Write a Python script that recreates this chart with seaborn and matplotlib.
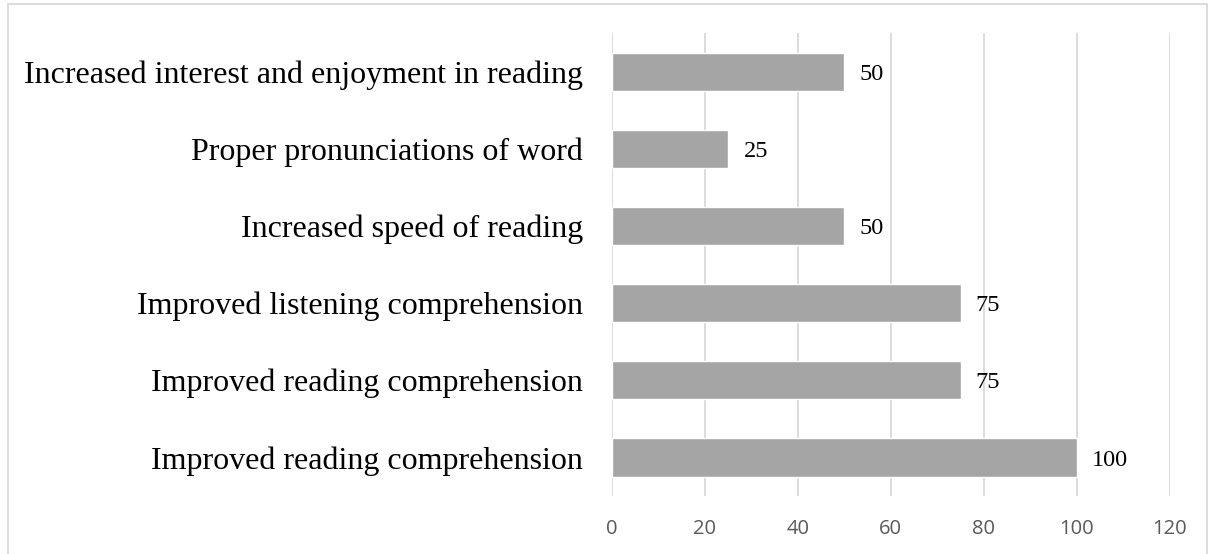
import seaborn as sns
import matplotlib.pyplot as plt
import matplotlib.patches as mpatches
import pandas as pd

categories = [
    'Increased interest and enjoyment in reading',
    'Proper pronunciations of word',
    'Increased speed of reading',
    'Improved listening comprehension',
    'Improved reading comprehension',
    'Improved reading comprehension',
]
values = [50, 25, 50, 75, 75, 100]
xticks = [0, 20, 40, 60, 80, 100, 120]

# two rows share a label, so bars are keyed by position and labelled afterwards
df = pd.DataFrame({'Row': [str(i) for i in range(len(categories))], 'Value': values})

sns.set_style('white')
fig = plt.figure(figsize=(12.12, 5.54), dpi=100)
ax = fig.add_axes([0.505, 0.105, 0.46, 0.835])

sns.barplot(data=df, y='Row', x='Value', color='#A5A5A5', saturation=1,
            width=0.5, ax=ax, orient='h')

ax.set_xlim(0, 120)
ax.set_ylim(5.5, -0.5)
ax.set_xticks(xticks)
ax.set_yticks(range(len(categories)))
ax.set_yticklabels(categories, fontfamily='Liberation Serif', fontsize=23, color='black')
ax.xaxis.grid(True, color='#D9D9D9', linewidth=1.3)
ax.set_axisbelow(True)
for s in ax.spines.values():
    s.set_visible(False)
ax.set_xlabel('')
ax.set_ylabel('')
ax.tick_params(axis='x', length=0, pad=17, labelsize=14.5, labelcolor='#595959')
ax.tick_params(axis='y', length=0, pad=21)
for lbl in ax.get_xticklabels():
    lbl.set_fontfamily('Open Sans')

labels = ax.bar_label(ax.containers[0], padding=11, fontsize=17.5,
                      fontfamily='Liberation Serif', color='black')
for t in labels:
    t.set_va('center')
    x0, y0 = t.xyann
    t.xyann = (x0, y0 - 2)

fig.patches.append(mpatches.Rectangle((0.007, -0.01), 0.989, 1.003, transform=fig.transFigure,
                                      fill=False, edgecolor='#D9D9D9', linewidth=1.3))

fig.savefig('out.png', dpi=100)
